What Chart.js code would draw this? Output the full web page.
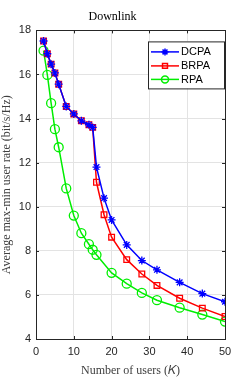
<!DOCTYPE html>
<html>
<head>
<meta charset="utf-8">
<script src="https://cdn.jsdelivr.net/npm/chart.js@4/dist/chart.umd.min.js"></script>
<style>
  html, body { margin: 0; padding: 0; background: #fff; }
  #wrap { width: 249px; height: 382px; position: relative; }
</style>
</head>
<body>
<div id="wrap"><canvas id="rateChart"></canvas></div>
<script>
// number of users K
const usersK = [2, 3, 4, 5, 6, 8, 10, 12, 14, 15, 16, 18, 20, 24, 28, 32, 38, 44, 50];
const usersRPA = [2, 3, 4, 5, 6, 8, 10, 12, 14, 15, 16, 20, 24, 28, 32, 38, 44, 50];

const dcpaRate = [17.52, 16.94, 16.47, 16.07, 15.56, 14.55, 14.21, 13.9, 13.72, 13.6, 11.8, 10.39, 9.4, 8.27, 7.56, 7.14, 6.57, 6.06, 5.69];
const brpaRate = [17.52, 16.94, 16.47, 16.07, 15.56, 14.55, 14.21, 13.9, 13.72, 13.6, 11.11, 9.64, 8.62, 7.6, 6.95, 6.43, 5.85, 5.4, 5.02];
const rpaRate  = [17.08, 15.98, 14.7, 13.52, 12.7, 10.83, 9.6, 8.8, 8.3, 8.05, 7.82, 7.0, 6.51, 6.09, 5.76, 5.42, 5.11, 4.79];

const xTicks = [0, 10, 20, 30, 40, 50];
const yTicks = [4, 6, 8, 10, 12, 14, 16, 18];

const seriesNames = ["DCPA", "BRPA", "RPA"];
const seriesColors = ["#0000ff", "#ff0000", "#00ee00"];
const seriesMarkers = ["star", "rect", "circle"];

function toPoints(xs, ys) {
  return xs.map((x, i) => ({ x: x, y: ys[i] }));
}

const tickFont = { family: "'Liberation Sans', Arial, sans-serif", size: 11 };
const serifFont = { family: "'Liberation Serif', 'Times New Roman', serif", size: 12 };

// box around the axes + inward ticks
const boxPlugin = {
  id: "box",
  afterDatasetsDraw(chart) {
    const { ctx, chartArea: a, scales } = chart;
    ctx.save();
    ctx.strokeStyle = "#262626";
    ctx.lineWidth = 1;
    ctx.beginPath();
    for (const v of xTicks) {
      const px = Math.round(scales.x.getPixelForValue(v)) + 0.5;
      ctx.moveTo(px, a.bottom); ctx.lineTo(px, a.bottom - 3);
      ctx.moveTo(px, a.top); ctx.lineTo(px, a.top + 3);
    }
    for (const v of yTicks) {
      const py = Math.round(scales.y.getPixelForValue(v)) + 0.5;
      ctx.moveTo(a.left, py); ctx.lineTo(a.left + 3, py);
      ctx.moveTo(a.right, py); ctx.lineTo(a.right - 3, py);
    }
    ctx.stroke();
    ctx.strokeRect(Math.round(a.left) + 0.5, Math.round(a.top) + 0.5,
      Math.round(a.right - a.left), Math.round(a.bottom - a.top));
    ctx.restore();
  }
};

// legend box in the upper right, MATLAB style
const legendPlugin = {
  id: "boxLegend",
  afterDraw(chart) {
    const ctx = chart.ctx;
    const a = chart.chartArea;
    const x0 = a.right - 77, y0 = a.top + 11, w = 76, h = 47;
    ctx.save();
    ctx.fillStyle = "#fff";
    ctx.fillRect(x0, y0, w, h);
    ctx.strokeStyle = "#262626";
    ctx.lineWidth = 1;
    ctx.strokeRect(x0 + 0.5, y0 + 0.5, w, h);
    const rows = [y0 + 10.5, y0 + 24.5, y0 + 38];
    ctx.font = "11px 'Liberation Sans', Arial, sans-serif";
    ctx.textBaseline = "middle";
    seriesNames.forEach((name, i) => {
      const y = rows[i];
      ctx.strokeStyle = seriesColors[i];
      ctx.lineWidth = 1.5;
      ctx.beginPath();
      ctx.moveTo(x0 + 3, y); ctx.lineTo(x0 + 31, y);
      ctx.stroke();
      ctx.fillStyle = "rgba(0,0,0,0)";
      Chart.helpers.drawPoint(ctx, {
        pointStyle: seriesMarkers[i], radius: 3.5, borderWidth: 1.5
      }, x0 + 17, y);
      ctx.fillStyle = "#000";
      ctx.fillText(name, x0 + 33, y + 0.5);
    });
    ctx.restore();
  }
};

const datasets = [
  toPoints(usersK, dcpaRate),
  toPoints(usersK, brpaRate),
  toPoints(usersRPA, rpaRate)
].map((pts, i) => ({
  label: seriesNames[i],
  data: pts,
  showLine: true,
  borderColor: seriesColors[i],
  backgroundColor: "rgba(0,0,0,0)",
  borderWidth: 1.5,
  pointStyle: seriesMarkers[i],
  pointRadius: i === 2 ? 4.5 : 4,
  pointBorderWidth: 1.3,
  pointBorderColor: seriesColors[i],
  pointBackgroundColor: "rgba(0,0,0,0)",
  order: i === 0 ? 0 : i
}));

new Chart(document.getElementById("rateChart"), {
  type: "scatter",
  data: { datasets: datasets },
  options: {
    responsive: true,
    maintainAspectRatio: false,
    animation: false,
    devicePixelRatio: 1,
    layout: { padding: { top: 0, right: 24, bottom: 0, left: 0 } },
    plugins: {
      legend: { display: false },
      tooltip: { enabled: false },
      title: {
        display: true,
        text: "Downlink",
        color: "#000",
        font: { family: serifFont.family, size: 12, weight: "normal" },
        padding: { top: 10, bottom: 6 }
      }
    },
    scales: {
      x: {
        type: "linear",
        min: 0, max: 50,
        afterBuildTicks(scale) { scale.ticks = xTicks.map(v => ({ value: v })); },
        afterFit(scale) { scale.height = 43; },
        grid: { color: "#e3e3e3", drawTicks: false },
        border: { display: false },
        ticks: { color: "#262626", font: tickFont, padding: 6, maxRotation: 0 },
        title: {
          display: true,
          text: "Number of users (𝐾)",
          color: "#404040",
          font: serifFont,
          padding: { top: 0, bottom: 4 }
        }
      },
      y: {
        type: "linear",
        min: 4, max: 18,
        afterBuildTicks(scale) { scale.ticks = yTicks.map(v => ({ value: v })); },
        afterFit(scale) { scale.width = 36; },
        grid: { color: "#e3e3e3", drawTicks: false },
        border: { display: false },
        ticks: { color: "#262626", font: tickFont, padding: 5 },
        title: {
          display: true,
          text: "Average max-min user rate (bit/s/Hz)",
          color: "#404040",
          font: serifFont,
          padding: { top: 0, bottom: 0 }
        }
      }
    }
  },
  plugins: [boxPlugin, legendPlugin]
});
</script>
</body>
</html>
